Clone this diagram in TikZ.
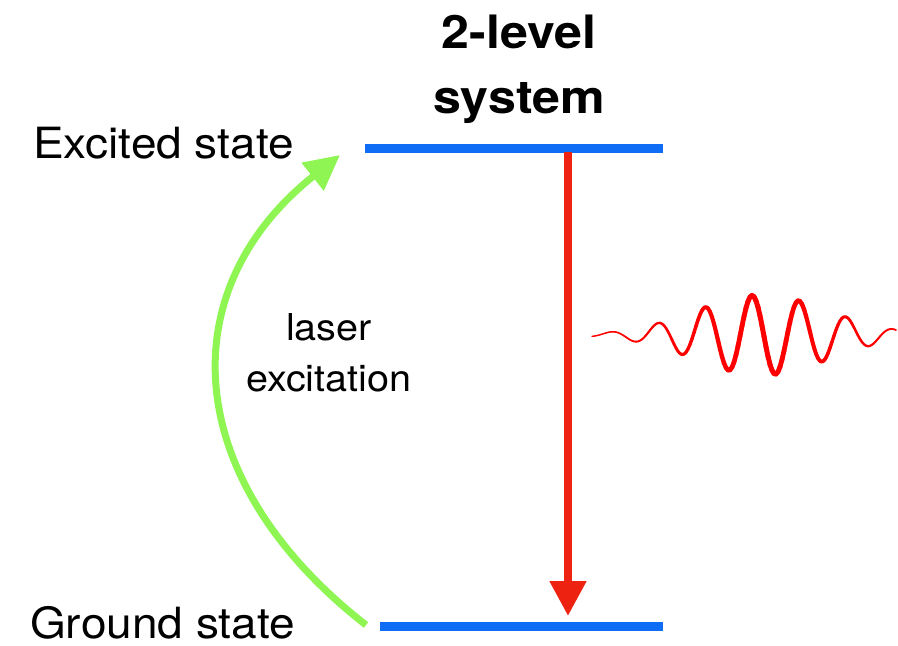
\documentclass[tikz,border=0pt]{standalone}
\usepackage{fontspec}
\setmainfont{TeX Gyre Heros}
\newfontfamily\widefont[FakeStretch=1.07]{TeX Gyre Heros}
\newfontfamily\widebold[FakeStretch=1.09]{TeX Gyre Heros Bold}
\usetikzlibrary{arrows.meta}
\definecolor{levelblue}{RGB}{15,108,245}
\definecolor{decayred}{RGB}{238,34,17}
\definecolor{lasergreen}{RGB}{142,245,83}
\definecolor{wavered}{RGB}{255,0,0}
\tikzset{
  level/.style={levelblue, line width=9pt},
  lbl/.style={font=\widefont\fontsize{43}{43}\selectfont, anchor=base west, inner sep=0pt},
  ttl/.style={font=\widebold\fontsize{46}{46}\selectfont, anchor=base, inner sep=0pt},
  small/.style={font=\widefont\fontsize{37}{37}\selectfont, anchor=base, inner sep=0pt},
  decay/.style={decayred, line width=8pt, -{Triangle[length=35pt,width=35pt]}},
  excite/.style={lasergreen, line width=7pt, -{Triangle[length=35pt,width=34pt]}},
}
\begin{document}
\begin{tikzpicture}[x=1pt,y=-1pt]
\useasboundingbox (0,0) rectangle (898,646);
% levels
\coordinate (eL) at (365,148);
\coordinate (eR) at (663,148);
\coordinate (gL) at (380,626);
\coordinate (gR) at (663,626);
\draw[level] (eL) -- (eR);
\draw[level] (gL) -- (gR);
% labels
\node[lbl] (exc) at (33,158) {Excited state};
\node[lbl] (gnd) at (30,638) {Ground state};
\node[ttl] (t1) at (519,48) {2-level};
\node[ttl] (t2) at (519,113) {system};
\node[small] (l1) at (329,340) {laser};
\node[small] (l2) at (329,391) {excitation};
% decay arrow
\coordinate (dS) at (568,152);
\coordinate (dE) at (568,616);
\draw[decay] (dS) -- (dE);
% excitation arrow
\coordinate (xS) at (366,625);
\coordinate (xE) at (340,155);
\draw[excite] (xS) .. controls (180,480) and (170,290) .. (xE);
% emitted photon (ribbon thicker in the middle)
\foreach \i in {0,...,151}{
  \pgfmathsetmacro{\xa}{592+2*\i}
  \pgfmathsetmacro{\xb}{\xa+2}
  \pgfmathsetmacro{\ea}{exp(-((\xa-762)/100)^2/(2*0.67*0.67))}
  \pgfmathsetmacro{\eb}{exp(-((\xb-762)/100)^2/(2*0.67*0.67))}
  \pgfmathsetmacro{\ya}{335-40*\ea*cos(360/47*(\xa-752))}
  \pgfmathsetmacro{\yb}{335-40*\eb*cos(360/47*(\xb-752))}
  \pgfmathsetmacro{\lw}{1.2+3.8*(\ea+\eb)/2}
  \draw[wavered, line width=\lw pt, line cap=round] (\xa,\ya) -- (\xb,\yb);
}
\end{tikzpicture}
\end{document}
